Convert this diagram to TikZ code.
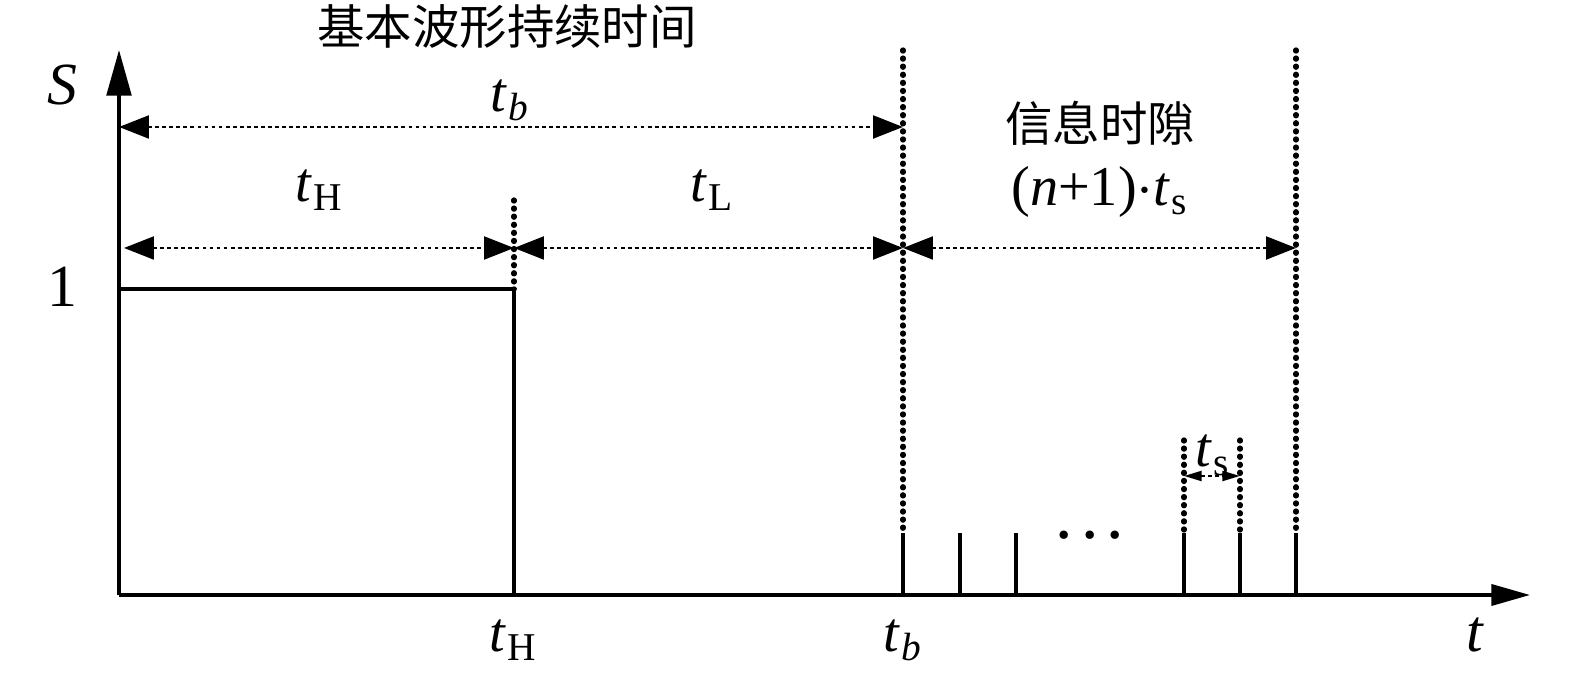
\documentclass[tikz,border=0pt]{standalone}
\usepackage{fontspec}
\setmainfont{Liberation Serif}
\newfontfamily\cjk{Noto Sans CJK SC}
\usetikzlibrary{arrows.meta}
\newcommand{\tsub}[1]{\textit{t}\kern0.3pt\textsubscript{#1}}
\tikzset{
  solid line/.style={line width=1pt},
  dimline/.style={line width=0.7pt, dash pattern=on 1.1pt off 0.9pt,
    {Triangle[length=8.5pt,width=6.5pt]}-{Triangle[length=8.5pt,width=6.5pt]}},
  guide/.style={line width=1.5pt, dash pattern=on 0.3pt off 2pt, line cap=round},
  lbl/.style={font=\fontsize{16}{18}\selectfont, inner sep=0pt},
  cnlbl/.style={font=\cjk\fontsize{13.5}{15}\selectfont, inner sep=0pt, text height=9pt, text depth=1pt}
}
\begin{document}
\begin{tikzpicture}[x=0.01cm,y=-0.01cm]
\useasboundingbox (0,0) rectangle (1575,683);

% axes
\coordinate (O) at (119,595);
\coordinate (Stop) at (119,50);
\coordinate (Tend) at (1530,595);
\draw[solid line, -{Triangle[length=13pt,width=7pt]}] (O) -- (Stop);
\draw[solid line, -{Triangle[length=11pt,width=6pt]}] (O) -- (Tend);
\node[lbl, font=\fontsize{17}{19}\selectfont\itshape] (S) at (62,85) {S};
\node[lbl, font=\fontsize{17}{19}\selectfont] (one) at (62,287) {1};
\node[lbl, font=\fontsize{17}{19}\selectfont\itshape] (t) at (1475,635) {t};

% basic waveform
\coordinate (hi0) at (119,289);
\coordinate (hi1) at (514,289);
\coordinate (lo1) at (514,595);
\draw[solid line] (hi0) -- (hi1) -- (lo1);

% pulses
\coordinate (p0) at (903,533);  \coordinate (q0) at (903,595);
\coordinate (p1) at (960,533);  \coordinate (q1) at (960,595);
\coordinate (p2) at (1016,533); \coordinate (q2) at (1016,595);
\coordinate (p3) at (1184,533); \coordinate (q3) at (1184,595);
\coordinate (p4) at (1240,533); \coordinate (q4) at (1240,595);
\coordinate (p5) at (1296,533); \coordinate (q5) at (1296,595);
\draw[solid line] (p0) -- (q0);
\draw[solid line] (p1) -- (q1);
\draw[solid line] (p2) -- (q2);
\draw[solid line] (p3) -- (q3);
\draw[solid line] (p4) -- (q4);
\draw[solid line] (p5) -- (q5);
\node[inner sep=0pt, font=\fontsize{20}{20}\selectfont] (dots) at (1090,545) {·\kern0.6pt·\kern0.6pt·};

% guide lines
\coordinate (gH) at (514,200);
\coordinate (gb) at (903,50);
\coordinate (gn) at (1296,50);
\coordinate (gs0) at (1184,440);
\coordinate (gs1) at (1240,440);
\draw[guide] (gH) -- (hi1);
\draw[guide] (gb) -- (p0);
\draw[guide] (gn) -- (p5);
\draw[guide] (gs0) -- (p3);
\draw[guide] (gs1) -- (p4);

% dimension arrows
\coordinate (b0) at (119,127);  \coordinate (b1) at (903,127);
\coordinate (h0) at (124,248);  \coordinate (h1) at (514,248);
\coordinate (l1) at (903,248);  \coordinate (n1) at (1296,248);
\coordinate (s0) at (1184,476); \coordinate (s1) at (1240,476);
\draw[dimline] (b0) -- (b1);
\draw[dimline] (h0) -- (h1);
\draw[dimline] (h1) -- (l1);
\draw[dimline] (l1) -- (n1);
\draw[line width=0.7pt, dash pattern=on 1.1pt off 0.9pt,
  {Triangle[length=5pt,width=2.8pt]}-{Triangle[length=5pt,width=2.8pt]}] (s0) -- (s1);

% labels
\node[cnlbl] (title) at (507,30) {基本波形持续时间};
\node[cnlbl] (slot) at (1100,127) {信息时隙};
\node[lbl] (tb) at (510,100) {\tsub{\textit{b}}};
\node[lbl] (tH) at (320,190) {\tsub{H}};
\node[lbl] (tL) at (712,190) {\tsub{L}};
\node[lbl] (ns) at (1100,192) {(\textit{n}+1)$\cdot$\tsub{s}};
\node[lbl] (ts) at (1213,455) {\tsub{s}};
\node[lbl] (tHa) at (514,640) {\tsub{H}};
\node[lbl] (tba) at (903,640) {\tsub{\textit{b}}};
\end{tikzpicture}
\end{document}
